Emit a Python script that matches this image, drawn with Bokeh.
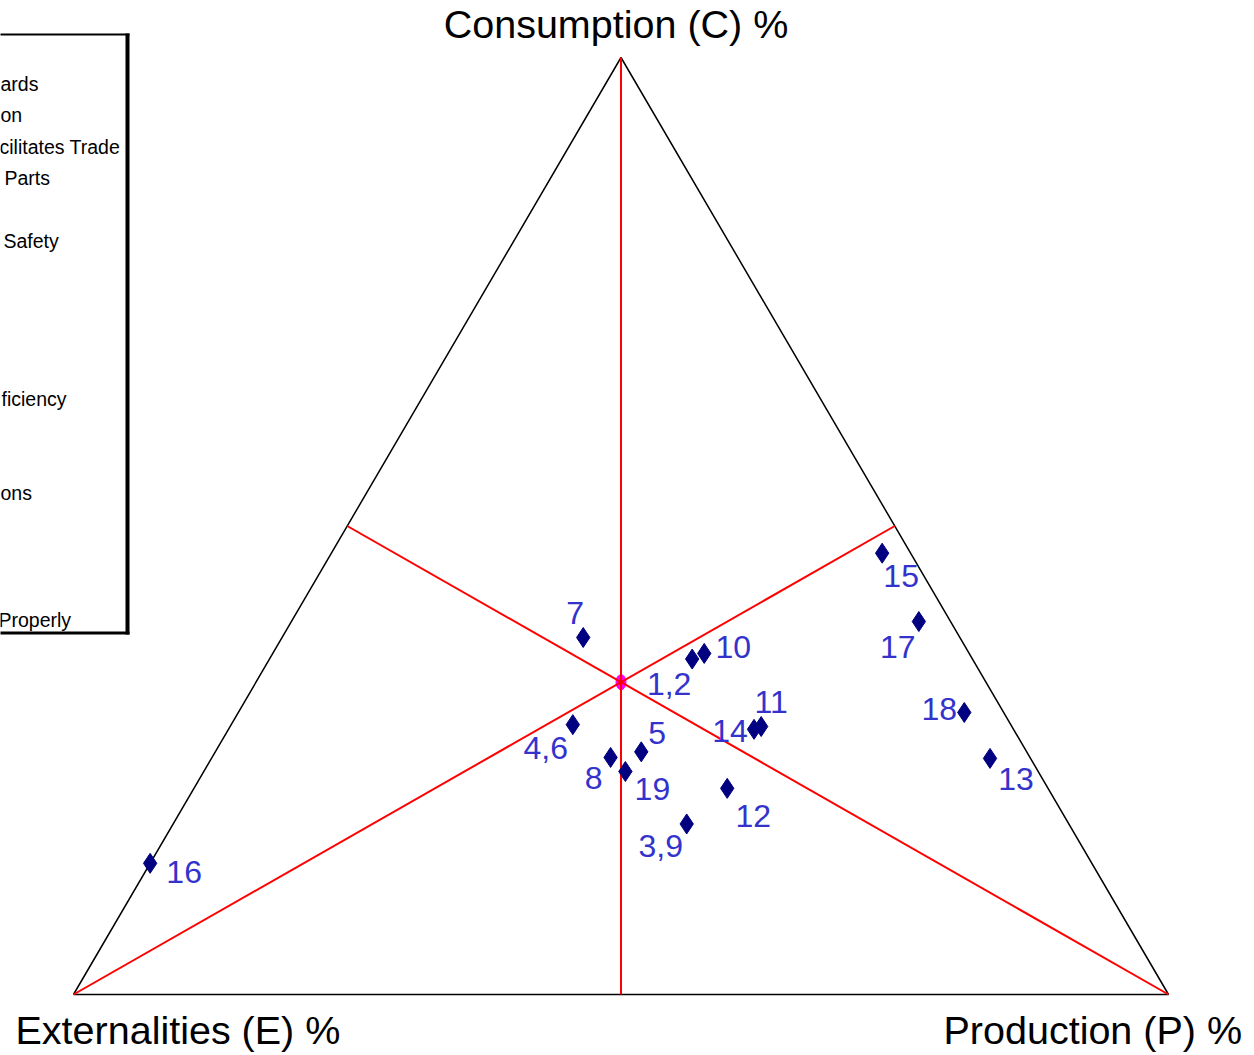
from bokeh.plotting import figure
from bokeh.models import Range1d, ColumnDataSource
from bokeh.core.properties import value
from bokeh.embed import file_html
from bokeh.resources import INLINE

# Ternary shares (%) for each item: Consumption, Production, Externalities
labels = ["1,2", "3,9", "4,6", "5", "7", "8", "10", "11", "12",
          "13", "14", "15", "16", "17", "18", "19"]
consumption = [35.8, 18.2, 28.8, 25.9, 38.1, 25.3, 36.4, 28.6, 22.0,
               25.2, 28.3, 47.1, 14.0, 39.8, 30.1, 23.8]
production = [38.6, 46.9, 31.2, 38.9, 27.5, 36.4, 39.4, 48.5, 48.7,
              71.1, 48.0, 50.3, 0.0, 57.3, 66.3, 38.5]
externalities = [25.6, 34.9, 40.0, 35.2, 34.4, 38.3, 24.2, 22.9, 29.3,
                 3.7, 23.7, 2.6, 86.0, 2.9, 3.6, 37.7]

# Visible tails of the legend entries (the key box runs off the left edge)
legend_rows = [0, 1, 2, 3, 5, 10, 13, 17]
legend_text = ["ards", "on", "cilitates Trade", "Parts", "Safety",
               "ficiency", "ons", "Properly"]

# label placement around each marker, in screen pixels (dx, dy; dy down)
label_dx = [-23, -26, -27, 16, -8, -17, 29, 10, 26, 26, -24, 19, 34, -21, -25, 27]
label_dy = [25, 22, 23, -19, -25, 21, -6, -25, 28, 21, 2, 23, 9, 25, -3, 18]

W, H = 1254, 1055
# triangle frame in pixels: base from x=73 to 1168 at y=994, apex at y=57
LEFT, RIGHT, TOP, BASE = 73, 1168, 57, 994
SX, SY = RIGHT - LEFT, BASE - TOP


def tern(c, p_):
    """Ternary (C %, P %) -> plane coordinates; E = 100 - C - P."""
    c = c / 100.0
    p_ = p_ / 100.0
    return p_ + c / 2.0, c


def px(x):
    return (x - LEFT) / SX


def py(y):
    return (BASE - y) / SY


p = figure(width=W, height=H,
           x_range=Range1d(-LEFT / SX, (W - LEFT) / SX),
           y_range=Range1d(-(H - BASE) / SY, BASE / SY),
           output_backend="svg", toolbar_location=None,
           x_axis_location=None, y_axis_location=None,
           min_border=0, outline_line_color=None,
           background_fill_color="white", border_fill_color="white")
for g in p.grid:
    g.visible = False

# triangle outline
vE = tern(0, 0)
vP = tern(0, 100)
vC = tern(100, 0)
p.line([vE[0], vP[0], vC[0], vE[0]], [vE[1], vP[1], vC[1], vE[1]],
       line_color="black", line_width=1.5)

# centre point (equal shares)
cx, cy = tern(100 / 3, 100 / 3)
p.ellipse([cx], [cy], width=10, height=15, width_units="screen",
          height_units="screen", fill_color="#FF00FF", line_color="#FF00FF")

# medians: each vertex to the midpoint of the opposite side
mids = [tern(50, 50), tern(0, 50), tern(50, 0)]  # opposite E, C, P
verts = [vE, vC, vP]
for v, m in zip(verts, mids):
    p.line([v[0], m[0]], [v[1], m[1]], line_color="#FF0000", line_width=2)

# data markers
xs, ys = zip(*[tern(c, pr) for c, pr in zip(consumption, production)])
src = ColumnDataSource(dict(x=list(xs), y=list(ys), label=labels,
                            c=consumption, pr=production, e=externalities,
                            dx=label_dx, dy=label_dy))
p.scatter("x", "y", marker="diamond", size=20, fill_color="#000080",
          line_color="#000080", source=src)
p.text("x", "y", text="label", x_offset="dx", y_offset="dy", source=src,
       text_font=value("Liberation Sans"), text_font_size=value("32px"),
       text_color="#3333CC", text_align="center", text_baseline="alphabetic")

# corner titles
title_font = dict(text_font=value("Liberation Sans"),
                  text_font_size=value("39.5px"), text_color="black",
                  text_baseline="alphabetic")
p.text([vC[0]], [vC[1]], text=["Consumption (C) %"], x_offset=-5,
       y_offset=-34, text_align="center", **title_font)
p.text([vE[0]], [vE[1]], text=["Externalities (E) %"], x_offset=-58,
       y_offset=35, text_align="left", **title_font)
p.text([vP[0]], [vP[1]], text=["Production (P) %"], x_offset=-225,
       y_offset=35, text_align="left", **title_font)

# key box (left part runs past the page edge)
p.line([px(-5), px(129)], [py(34), py(34)], line_color="black", line_width=2)
p.line([px(-5), px(129)], [py(632.5), py(632.5)], line_color="black",
       line_width=3)
p.line([px(127), px(127)], [py(33), py(634)], line_color="black",
       line_width=4)

leg_x = [px(0), px(0), px(-1), px(4), px(3), px(1), px(0), px(-2)]
leg_y = [py(83 + 31.53 * r) for r in legend_rows]
p.text(leg_x, leg_y, text=legend_text, text_font=value("Liberation Sans"),
       text_font_size=value("19.5px"), text_color="black", text_align="left",
       text_baseline="middle")

open("out.html", "w").write(file_html(p, INLINE))
